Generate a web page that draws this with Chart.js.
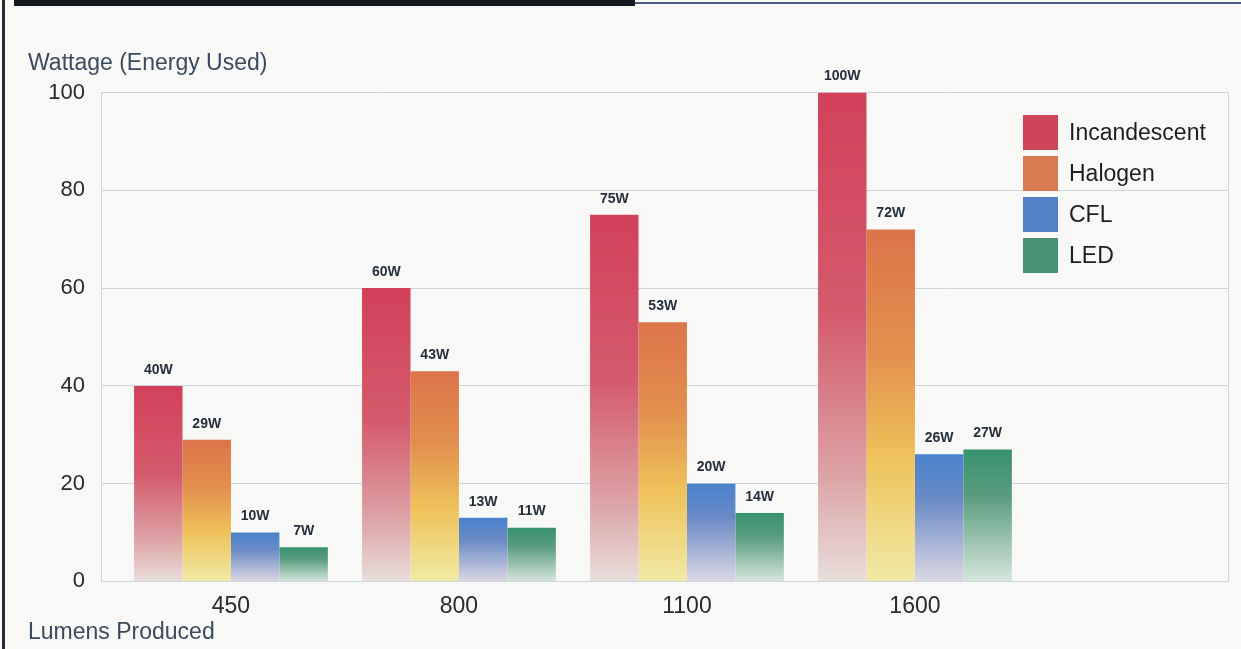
<!DOCTYPE html>
<html>
<head>
<meta charset="utf-8">
<script src="https://cdn.jsdelivr.net/npm/chart.js@4/dist/chart.umd.min.js"></script>
<style>
    html, body {
        margin: 0;
        padding: 0;
        background: #f7f7f5;
    }
    .frame {
        position: relative;
        width: 1241px;
        height: 649px;
        overflow: hidden;
        background: #f8f8f6;
    }
    .frame .top-bar {
        position: absolute;
        left: 14px;
        top: 0;
        width: 621px;
        height: 6px;
        background: #14171c;
    }
    .frame .top-rule {
        position: absolute;
        left: 635px;
        top: 2px;
        right: 0;
        height: 2px;
        background: #4b5a86;
    }
    .frame .left-rule {
        position: absolute;
        left: 2px;
        top: 0;
        bottom: 0;
        width: 3px;
        background: #262c3a;
    }
    .chart-wrap {
        position: absolute;
        left: 0;
        top: 0;
        width: 1241px;
        height: 649px;
    }
    .legend {
        position: absolute;
        left: 1023px;
        top: 115px;
        font-family: 'Liberation Sans', Arial, sans-serif;
        font-size: 23px;
        color: #1e1e22;
    }
    .legend-item {
        display: flex;
        align-items: center;
        height: 35px;
        margin-bottom: 6px;
    }
    .legend-swatch {
        width: 35px;
        height: 35px;
        margin-right: 11px;
    }
</style>
</head>
<body>
<div class="frame">
    <div class="top-bar"></div>
    <div class="top-rule"></div>
    <div class="left-rule"></div>
    <div class="chart-wrap"><canvas id="wattChart"></canvas></div>
    <div class="legend" id="legend"></div>
</div>

<script>
// Lumen classes on the x axis and wattage for each bulb type
const lumens = ['450', '800', '1100', '1600'];
const incandescent = [40, 60, 75, 100];
const halogen = [29, 43, 53, 72];
const cfl = [10, 13, 20, 26];
const led = [7, 11, 14, 27];
const wattTicks = [0, 20, 40, 60, 80, 100];

// Bar fills: solid colour at the top of each bar, fading out towards the baseline
const palette = {
    Incandescent: { solid: '#cf4459', stops: [[0, '#d2405a'], [0.45, '#d45a6c'], [0.78, '#dca2a4'], [1, '#e8dedb']] },
    Halogen: { solid: '#d97b52', stops: [[0, '#dc744a'], [0.35, '#e2904e'], [0.65, '#eec25a'], [1, '#f1eaa6']] },
    CFL: { solid: '#5281c6', stops: [[0, '#4a82cc'], [0.35, '#6a8ac6'], [1, '#dcd8e4']] },
    LED: { solid: '#4a9274', stops: [[0, '#38926e'], [0.35, '#5a9c80'], [1, '#d6e6dc']] }
};

const series = [
    { label: 'Incandescent', values: incandescent },
    { label: 'Halogen', values: halogen },
    { label: 'CFL', values: cfl },
    { label: 'LED', values: led }
];

function barFill(name) {
    return function(context) {
        const chart = context.chart;
        const style = palette[name];
        if (!chart.chartArea || !context.parsed) {
            return style.solid;
        }
        const yScale = chart.scales.y;
        const top = yScale.getPixelForValue(context.parsed.y);
        const bottom = yScale.getPixelForValue(0);
        const gradient = chart.ctx.createLinearGradient(0, top, 0, bottom);
        style.stops.forEach(stop => gradient.addColorStop(stop[0], stop[1]));
        return gradient;
    };
}

// Writes "40W" etc. above every bar
const valueLabels = {
    id: 'valueLabels',
    afterDatasetsDraw(chart) {
        const ctx = chart.ctx;
        ctx.save();
        ctx.font = "bold 14px 'Liberation Sans', Arial, sans-serif";
        ctx.fillStyle = '#25303c';
        ctx.textAlign = 'center';
        ctx.textBaseline = 'middle';
        chart.data.datasets.forEach((dataset, i) => {
            const meta = chart.getDatasetMeta(i);
            meta.data.forEach((bar, j) => {
                ctx.fillText(dataset.data[j].y + 'W', bar.x, bar.y - 16);
            });
        });
        ctx.restore();
    }
};

Chart.defaults.font.family = "'Liberation Sans', Arial, sans-serif";
Chart.defaults.color = '#2a2a2e';

const gridColor = '#cdd4dc';

const wattChart = new Chart(document.getElementById('wattChart'), {
    type: 'bar',
    data: {
        datasets: series.map(s => ({
            label: s.label,
            data: s.values.map((v, i) => ({ x: i, y: v })),
            backgroundColor: barFill(s.label),
            borderWidth: 0,
            categoryPercentage: 0.85,
            barPercentage: 1
        }))
    },
    options: {
        responsive: true,
        maintainAspectRatio: false,
        animation: false,
        layout: {
            padding: { left: 28, right: 13, top: 0, bottom: 0 }
        },
        plugins: {
            legend: { display: false },
            tooltip: { enabled: false },
            title: {
                display: true,
                text: 'Wattage (Energy Used)',
                align: 'start',
                color: '#3c4a5e',
                font: { size: 23, weight: 'normal' },
                padding: { top: 50, bottom: 15 }
            },
            subtitle: {
                display: true,
                position: 'bottom',
                text: 'Lumens Produced',
                align: 'start',
                color: '#3c4a5e',
                font: { size: 23 },
                padding: { top: 0, bottom: 3 }
            }
        },
        scales: {
            x: {
                type: 'linear',
                bounds: 'data',
                offset: false,
                min: -0.57,
                max: 4.373,
                afterBuildTicks: scale => {
                    scale.ticks = lumens.map((_, i) => ({ value: i }));
                },
                afterFit: scale => {
                    scale.height = 37;
                },
                ticks: {
                    callback: value => lumens[value],
                    font: { size: 23 },
                    color: '#2a2a2e',
                    padding: 3,
                    maxRotation: 0
                },
                grid: { display: false },
                border: { display: true, color: gridColor }
            },
            y: {
                min: 0,
                max: 100,
                afterBuildTicks: scale => {
                    scale.ticks = wattTicks.map(v => ({ value: v }));
                },
                afterFit: scale => {
                    scale.width = 73;
                },
                ticks: {
                    font: { size: 22 },
                    color: '#2a2a2e',
                    padding: 16
                },
                grid: { color: gridColor, lineWidth: 1, drawTicks: false },
                border: { display: true, color: gridColor }
            },
            yRight: {
                position: 'right',
                min: 0,
                max: 100,
                afterFit: scale => {
                    scale.width = 0;
                },
                ticks: { display: false },
                grid: { display: false, drawTicks: false },
                border: { display: true, color: gridColor }
            }
        }
    },
    plugins: [valueLabels]
});

// Legend built from the chart's datasets
const legendEl = document.getElementById('legend');
wattChart.data.datasets.forEach(dataset => {
    const item = document.createElement('div');
    item.className = 'legend-item';
    const swatch = document.createElement('span');
    swatch.className = 'legend-swatch';
    swatch.style.background = palette[dataset.label].solid;
    const text = document.createElement('span');
    text.textContent = dataset.label;
    item.appendChild(swatch);
    item.appendChild(text);
    legendEl.appendChild(item);
});
</script>
</body>
</html>
